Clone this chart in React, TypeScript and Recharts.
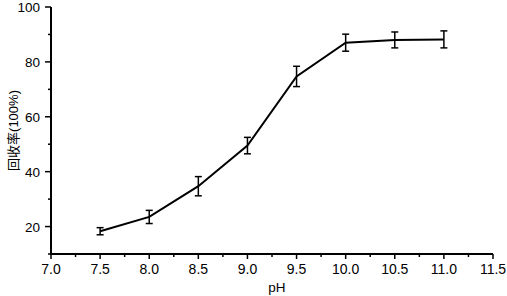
import { LineChart, Line, XAxis, YAxis, ErrorBar, Label } from "recharts";

const phValues = [7.5, 8.0, 8.5, 9.0, 9.5, 10.0, 10.5, 11.0];
const recovery = [18.3, 23.5, 34.7, 49.5, 74.7, 87.0, 88.0, 88.2];
const errors = [1.3, 2.4, 3.5, 3.0, 3.7, 3.1, 2.9, 3.1];

const xTicks = [7, 7.25, 7.5, 7.75, 8, 8.25, 8.5, 8.75, 9, 9.25, 9.5, 9.75, 10, 10.25, 10.5, 10.75, 11, 11.25, 11.5];
const yTicks = [10, 20, 30, 40, 50, 60, 70, 80, 90, 100];

const data = phValues.map((ph, i) => ({ ph, rec: recovery[i], err: errors[i] }));

const FONT = '"Liberation Sans", Arial, "Noto Sans CJK SC", sans-serif';

const XTick = (props: any) => {
  const { x, y, payload } = props;
  const v = payload.value as number;
  const major = Number.isInteger(v * 2);
  return (
    <g>
      <line x1={x} x2={x} y1={y} y2={y + (major ? 5 : 3)} stroke="#000" strokeWidth={1.5} />
      {major && (
        <text x={x} y={y + 20} textAnchor="middle" fontSize={14} fontFamily={FONT} fill="#000">
          {v.toFixed(1)}
        </text>
      )}
    </g>
  );
};

const YTick = (props: any) => {
  const { x, y, payload } = props;
  const v = payload.value as number;
  const major = v % 20 === 0;
  return (
    <g>
      <line x1={x} x2={x - (major ? 6 : 3)} y1={y} y2={y} stroke="#000" strokeWidth={1.5} />
      {major && (
        <text x={x - 11} y={y + 5} textAnchor="end" fontSize={13.5} fontFamily={FONT} fill="#000">
          {v}
        </text>
      )}
    </g>
  );
};

export default function App() {
  return (
    <div style={{ position: "absolute", left: 0, top: 0, background: "#fff" }}>
      <LineChart width={507} height={296} data={data} margin={{ top: 7, right: 14, bottom: 0, left: 0 }}>
        <XAxis
          dataKey="ph"
          type="number"
          domain={[7, 11.5]}
          ticks={xTicks}
          interval={0}
          tick={<XTick />}
          tickLine={false}
          tickSize={0}
          tickMargin={0}
          height={42}
          axisLine={{ stroke: "#000", strokeWidth: 2 }}
        >
          <Label
            content={({ viewBox }: any) => (
              <text
                x={viewBox.x + viewBox.width / 2 + 5}
                y={viewBox.y + 38}
                textAnchor="middle"
                fontSize={13.5}
                fontFamily={FONT}
                fill="#000"
              >
                pH
              </text>
            )}
          />
        </XAxis>
        <YAxis
          type="number"
          domain={[10, 100]}
          ticks={yTicks}
          interval={0}
          tick={<YTick />}
          tickLine={false}
          tickSize={0}
          tickMargin={0}
          width={51}
          axisLine={{ stroke: "#000", strokeWidth: 2 }}
        >
          <Label
            content={({ viewBox }: any) => {
              const cx = 18;
              const cy = viewBox.y + viewBox.height / 2;
              return (
                <text
                  x={cx}
                  y={cy}
                  transform={`rotate(-90, ${cx}, ${cy})`}
                  textAnchor="middle"
                  fontSize={13}
                  fontFamily={FONT}
                  fill="#000"
                >
                  回收率(100%)
                </text>
              );
            }}
          />
        </YAxis>
        <Line
          type="linear"
          dataKey="rec"
          stroke="#000"
          strokeWidth={2}
          dot={false}
          activeDot={false}
          isAnimationActive={false}
        >
          <ErrorBar dataKey="err" width={3.5} stroke="#000" strokeWidth={1.5} isAnimationActive={false} />
        </Line>
      </LineChart>
    </div>
  );
}
